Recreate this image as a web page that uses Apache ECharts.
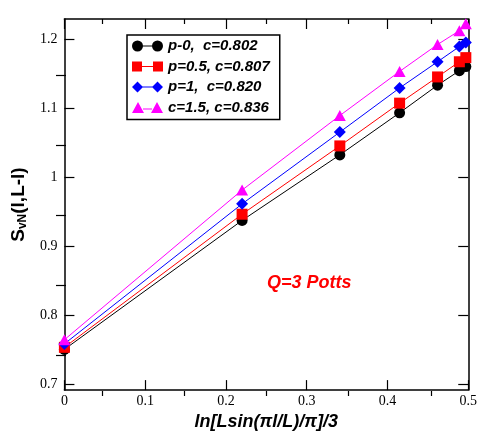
<!DOCTYPE html>
<html>
<head>
<meta charset="utf-8">
<script src="https://cdn.jsdelivr.net/npm/echarts@6/dist/echarts.min.js"></script>
<style>html,body{margin:0;padding:0;background:#fff;}#chart{width:480px;height:436px;}</style>
</head>
<body>
<div id="chart"></div>
<script>
// ---- data ----
const xValues = [0, 0.220, 0.341, 0.415, 0.462, 0.489, 0.497];
const sP0     = [0.751, 0.938, 1.033, 1.094, 1.134, 1.155, 1.161];
const sP05    = [0.754, 0.947, 1.046, 1.108, 1.146, 1.168, 1.174];
const sP1     = [0.759, 0.962, 1.066, 1.130, 1.168, 1.190, 1.196];
const sC15    = [0.765, 0.982, 1.090, 1.154, 1.193, 1.213, 1.223];
const seriesNames = ['p-0,  c=0.802', 'p=0.5, c=0.807', 'p=1,  c=0.820', 'c=1.5, c=0.836'];
const xMajorTicks = [0, 0.1, 0.2, 0.3, 0.4, 0.5];
const xMinorTicks = [0.05, 0.15, 0.25, 0.35, 0.45];
const yMajorTicks = [0.7, 0.8, 0.9, 1, 1.1, 1.2];
const yMinorTicks = [0.75, 0.85, 0.95, 1.05, 1.15];
const xLabelTicks = ['0', '0.1', '0.2', '0.3', '0.4', '0.5'];
const yLabelTicks = ['0.7', '0.8', '0.9', '1', '1.1', '1.2'];
const xAxisTitle = 'ln[Lsin(\u03C0l/L)/\u03C0]/3';
const annotation = 'Q=3 Potts';

const colors = ['#000000', '#ff0000', '#0000ff', '#ff00ff'];
const symbols = ['circle', 'rect', 'diamond', 'triangle'];
const symbolSizes = [11, 11, 12, [12, 11]];
const legendIcons = [
  'path://M0,5.5 A5.5,5.5 0 1,1 11,5.5 A5.5,5.5 0 1,1 0,5.5 Z M20,5.5 A5.5,5.5 0 1,1 31,5.5 A5.5,5.5 0 1,1 20,5.5 Z M10.5,5 L20.5,5 L20.5,6 L10.5,6 Z',
  'path://M0,0.5 L10,0.5 L10,10.5 L0,10.5 Z M21,0.5 L31,0.5 L31,10.5 L21,10.5 Z M9.5,5 L21.5,5 L21.5,6 L9.5,6 Z',
  'path://M0,5.5 L5.5,0 L11,5.5 L5.5,11 Z M20,5.5 L25.5,0 L31,5.5 L25.5,11 Z M10.5,5 L20.5,5 L20.5,6 L10.5,6 Z',
  'path://M0,11 L6,0 L12,11 Z M19,11 L25,0 L31,11 Z M11,6.5 L20,6.5 L20,7.5 L11,7.5 Z'
];
const allY = [sP0, sP05, sP1, sC15];

const X_MIN = 0, X_MAX = 0.5, Y_MIN = 0.692, Y_MAX = 1.23;
const gridRect = { left: 61, right: 8, top: 19, bottom: 40 };
const black = '#000';
const serif = "'Liberation Serif', 'DejaVu Serif', serif";
const sans = "'Liberation Sans', Arial, sans-serif";

function xAxisCfg(grid, pos, ticks, len, opts) {
  return Object.assign({
    type: 'value', gridIndex: grid, position: pos, min: X_MIN, max: X_MAX,
    axisLine: { show: true, onZero: false, lineStyle: { color: black, width: 1.5 } },
    axisTick: { show: true, inside: true, length: len, customValues: ticks, lineStyle: { color: black, width: 1.2 } },
    axisLabel: { show: false },
    splitLine: { show: false }
  }, opts || {});
}
function yAxisCfg(grid, pos, ticks, len, opts) {
  return Object.assign({
    type: 'value', gridIndex: grid, position: pos, min: Y_MIN, max: Y_MAX,
    axisLine: { show: true, onZero: false, lineStyle: { color: black, width: 1.5 } },
    axisTick: { show: true, inside: true, length: len, customValues: ticks, lineStyle: { color: black, width: 1.2 } },
    axisLabel: { show: false },
    splitLine: { show: false }
  }, opts || {});
}

const option = {
  animation: false,
  backgroundColor: '#fff',
  grid: [Object.assign({}, gridRect), Object.assign({}, gridRect)],
  xAxis: [
    xAxisCfg(0, 'bottom', xMajorTicks, 10, {
      axisLabel: { show: true, customValues: xMajorTicks, margin: 4, color: black, fontFamily: serif, fontSize: 14,
        formatter: v => xLabelTicks[xMajorTicks.findIndex(t => Math.abs(t - v) < 1e-9)] || '' },
      name: xAxisTitle, nameLocation: 'middle', nameGap: 15,
      nameTextStyle: { color: black, fontFamily: sans, fontWeight: 'bold', fontStyle: 'italic', fontSize: 18 }
    }),
    xAxisCfg(0, 'top', xMajorTicks, 10),
    xAxisCfg(1, 'bottom', xMinorTicks, 5, { axisLine: { show: false } }),
    xAxisCfg(1, 'top', xMinorTicks, 5, { axisLine: { show: false } })
  ],
  yAxis: [
    yAxisCfg(0, 'left', yMajorTicks, 10, {
      axisLabel: { show: true, customValues: yMajorTicks, margin: 7, color: black, fontFamily: serif, fontSize: 14,
        formatter: v => yLabelTicks[yMajorTicks.findIndex(t => Math.abs(t - v) < 1e-9)] || '' },
      name: 'S{sub|vN}(l,L-l)', nameLocation: 'middle', nameGap: 26,
      nameTextStyle: { color: black, fontFamily: sans, fontWeight: 'bold', fontSize: 19, lineHeight: 20, verticalAlign: 'top',
        rich: { sub: { fontFamily: sans, fontWeight: 'bold', fontSize: 12, lineHeight: 14, verticalAlign: 'bottom', padding: [9, 0, 0, 0], color: black } } }
    }),
    yAxisCfg(0, 'right', yMajorTicks, 10),
    yAxisCfg(1, 'left', yMinorTicks, 5, { axisLine: { show: false } }),
    yAxisCfg(1, 'right', yMinorTicks, 5, { axisLine: { show: false } })
  ],
  legend: {
    orient: 'vertical', left: 127, top: 35,
    padding: [3, 10, 4, 5], itemGap: 4.5, itemWidth: 31, itemHeight: 11,
    backgroundColor: '#fff', borderColor: black, borderWidth: 1.5, borderRadius: 0,
    itemStyle: { borderWidth: 0 },
    textStyle: { color: black, fontFamily: sans, fontWeight: 'bold', fontStyle: 'italic', fontSize: 15, lineHeight: 16 },
    data: seriesNames.map((n, i) => ({ name: n, icon: legendIcons[i], itemStyle: { color: colors[i], borderWidth: 0 } }))
  },
  graphic: [{
    type: 'text', x: 267, y: 283, z: 10,
    style: { text: annotation, fill: '#ff0000', font: "italic bold 18px 'Liberation Sans', Arial, sans-serif", textVerticalAlign: 'middle', textAlign: 'left' }
  }],
  series: seriesNames.map((n, i) => ({
    name: n, type: 'line', xAxisIndex: 0, yAxisIndex: 0,
    data: xValues.map((x, j) => [x, allY[i][j]]),
    symbol: symbols[i], symbolSize: symbolSizes[i], showAllSymbol: true, clip: false,
    lineStyle: { color: colors[i], width: 1 },
    itemStyle: { color: colors[i], borderWidth: 0 },
    z: 2 + i
  }))
};

const chart = echarts.init(document.getElementById('chart'), null, { renderer: 'canvas' });
chart.setOption(option);
</script>
</body>
</html>
